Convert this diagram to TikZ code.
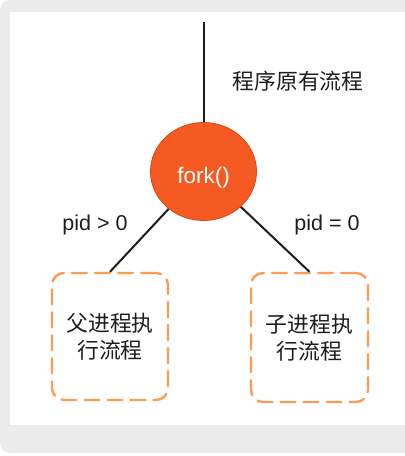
\documentclass[tikz,border=0pt]{standalone}
\usepackage{fontspec}
\setmainfont{Liberation Sans}
\newfontfamily\cjk{Noto Sans CJK SC}
\usetikzlibrary{shapes.geometric}
\definecolor{bggray}{HTML}{EBEBEB}
\definecolor{forkfill}{HTML}{F45A22}
\definecolor{forkline}{HTML}{D9480F}
\definecolor{dashor}{HTML}{FF9A55}
\definecolor{ink}{HTML}{1E1E1E}
\tikzset{
  conn/.style={draw=ink, line width=2pt},
  forknode/.style={ellipse, fill=forkfill, draw=forkline, line width=0.8pt,
    minimum width=106pt, minimum height=98pt, inner sep=0pt,
    text=white, font=\fontsize{22.5}{26}\selectfont},
  flowbox/.style={draw=dashor, line width=2.4pt, rounded corners=12pt,
    dash pattern=on 15pt off 8pt, line cap=round, align=center, inner sep=0pt,
    text=ink, font=\cjk\fontsize{21.8}{27}\selectfont},
  cjklabel/.style={text=ink, font=\cjk\fontsize{21.8}{24}\selectfont, inner sep=0pt},
  latlabel/.style={text=ink, font=\fontsize{21.5}{24}\selectfont, inner sep=0pt}
}
\begin{document}
\begin{tikzpicture}[x=1pt,y=-1pt]
\useasboundingbox (0,0) rectangle (405,456);
\fill[white] (0,0) rectangle (405,456);
\begin{scope}
\clip (0,0) rectangle (405,456);
\fill[bggray, rounded corners=10pt] (0,0) rectangle (430,453);
\end{scope}
\fill[white] (10,12) rectangle (405,425);

\coordinate (top) at (203.5,22);
\node[forknode] (fork) at (203.5,171.5) {\raisebox{-12pt}[0pt][0pt]{fork()}};
\node[flowbox, minimum width=116pt, minimum height=127pt] (lbox) at (110,336.5) {父进程执\\行流程};
\node[flowbox, minimum width=117pt, minimum height=129pt] (rbox) at (309.5,337.5) {子进程执\\行流程};

\node[cjklabel] (orig) at (298,81) {程序原有流程};
\node[latlabel] (lpid) at (95,225) {pid > 0};
\node[latlabel] (rpid) at (327,225) {pid = 0};

\draw[conn] (top) -- (fork);
\draw[conn] (fork) -- (lbox.north);
\draw[conn] (fork) -- (rbox.north);
\end{tikzpicture}
\end{document}
